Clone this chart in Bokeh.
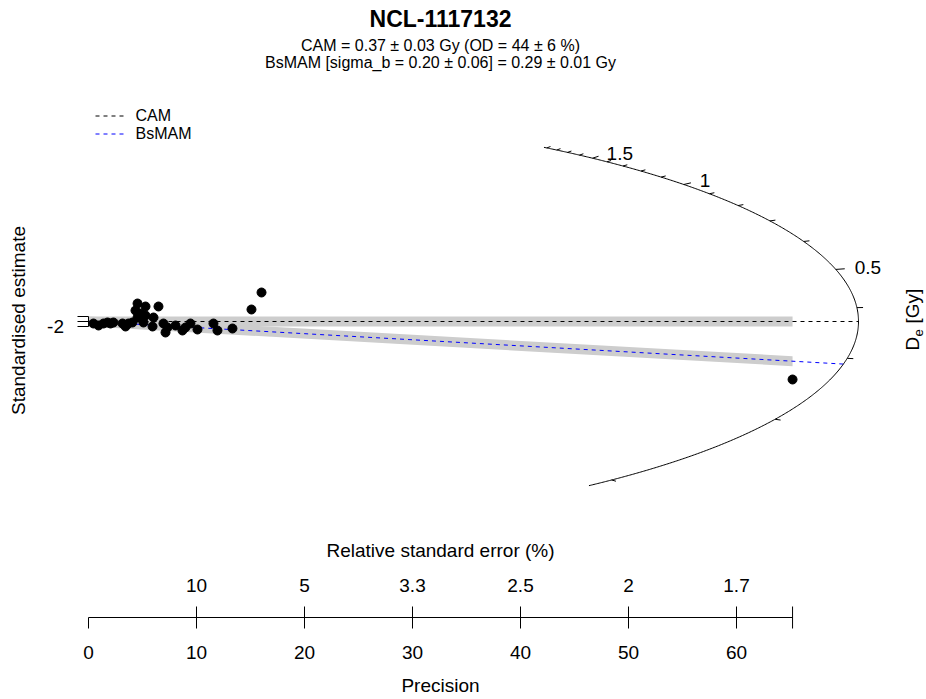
import numpy as np
from bokeh.plotting import figure
from bokeh.models import Range1d
from bokeh.core.properties import value
from bokeh.embed import file_html
from bokeh.resources import INLINE

# ---------------- data ----------------
sample_name = "NCL-1117132"
cam_text = "CAM = 0.37 ± 0.03 Gy (OD = 44 ± 6 %)"
bsmam_text = "BsMAM [sigma_b = 0.20 ± 0.06] = 0.29 ± 0.01 Gy"
cam_de = 0.37
bsmam_de = 0.29

precision = [0.46, 0.93, 1.39, 1.76, 2.04, 2.31, 3.15, 3.43, 3.70, 4.07,
             4.35, 4.54, 4.54, 4.81, 5.09, 5.28, 5.28, 5.93, 6.02, 6.48,
             6.94, 7.13, 7.31, 8.06, 8.70, 8.98, 9.44, 10.09, 11.57, 11.94,
             13.33, 15.09, 16.02, 65.19]
std_estimate = [-0.8, -1.6, -0.8, -0.4, -0.8, -0.4, -0.8, -2.0, -0.8, -0.4,
                4.4, 7.2, 1.6, 3.2, -0.4, 6.0, 2.4, -2.0, 1.6, 6.0,
                -0.8, -4.4, -2.4, -1.6, -3.6, -2.4, -0.8, -3.2, -0.8, -3.6,
                -2.8, 4.8, 11.6, -23.2]

de_minor_ticks = [0.1, 0.2, 0.3, 0.4, 0.6, 0.7, 0.8, 0.9, 1.1, 1.2, 1.3, 1.4,
                  1.6, 1.7, 1.8, 1.9]
de_major_ticks = [0.5, 1.0, 1.5]
de_major_labels = ["0.5", "1", "1.5"]
arc_de_limits = [0.0897, 1.93]

precision_ticks = [0, 10, 20, 30, 40, 50, 60]
precision_labels = ["0", "10", "20", "30", "40", "50", "60"]
precision_max = 65.19
rse_ticks = [10, 20, 30, 40, 50, 60]
rse_labels = ["10", "5", "3.3", "2.5", "2", "1.7"]
y_ticks = [-2, 0, 2]
band_halfwidth = 2

# ---------------- layout ----------------
W, H = 926, 696
PX0, PY0 = 88, 321          # pixel of the radial origin
KX, KY = 10.8, 2.5          # px per precision unit / per standardised unit
ARC_A, ARC_B = 770 / KX, 216 / KY
FONT = "Liberation Sans"


def X(px):
    return (px - PX0) / KX


def Y(py):
    return (PY0 - py) / KY


def arc_xy(de, scale=1.0):
    s = np.log(np.asarray(de, dtype=float) / cam_de)
    x = 1.0 / np.sqrt(1.0 / ARC_A ** 2 + s ** 2 / ARC_B ** 2)
    return x * scale, s * x * scale


p = figure(width=W, height=H, x_range=Range1d(X(0), X(W)),
           y_range=Range1d(Y(H), Y(0)), x_axis_type=None, y_axis_type=None,
           toolbar_location=None, output_backend="svg", min_border=0)
p.grid.visible = False
p.outline_line_color = None
p.background_fill_color = "white"
p.border_fill_color = "white"

# ---- bands ----
m_bs = np.log(bsmam_de / cam_de)
p.patch([0, precision_max, precision_max, 0],
        [-band_halfwidth, -band_halfwidth, band_halfwidth, band_halfwidth],
        fill_color="#cdcdcd", line_color=None)
p.patch([0, precision_max, precision_max, 0],
        [-band_halfwidth, m_bs * precision_max - band_halfwidth,
         m_bs * precision_max + band_halfwidth, band_halfwidth],
        fill_color="#cdcdcd", line_color=None)

# ---- central lines ----
cx, cy = arc_xy([cam_de])
p.line([0, cx[0]], [0, cy[0]], line_color="black", line_dash="4 4", line_width=1)
bx, by = arc_xy([bsmam_de])
p.line([0, bx[0]], [0, by[0]], line_color="blue", line_dash="4 4", line_width=1)

# ---- arc ----
de_curve = np.exp(np.linspace(np.log(arc_de_limits[0]), np.log(arc_de_limits[1]), 500))
ax_, ay_ = arc_xy(de_curve)
p.line(ax_, ay_, line_color="black", line_width=1)

x0, y0 = arc_xy(de_minor_ticks)
x1, y1 = arc_xy(de_minor_ticks, 1.008)
p.segment(x0, y0, x1, y1, line_color="black", line_width=1)
x0, y0 = arc_xy(de_major_ticks)
x1, y1 = arc_xy(de_major_ticks, 1.012)
p.segment(x0, y0, x1, y1, line_color="black", line_width=1)
lx, ly = arc_xy(de_major_ticks, 1.02)
p.text(lx, ly, text=de_major_labels, text_align="left", text_baseline="middle",
       x_offset=4, y_offset=-1, text_font=value(FONT), text_font_size="19px",
       text_color="black")

# ---- y axis (standardised estimate) ----
p.segment([0], [min(y_ticks)], [0], [max(y_ticks)], line_color="black", line_width=1)
p.segment([0] * len(y_ticks), y_ticks, [X(77)] * len(y_ticks), y_ticks,
          line_color="black", line_width=1)
p.text([X(55)], [y_ticks[0]], text=["-2"], text_align="center", text_baseline="middle",
       text_font=value(FONT), text_font_size="19px", text_color="black")

# ---- bottom precision / RSE axis ----
ya = Y(617)
p.segment([0], [ya], [precision_max], [ya], line_color="black", line_width=1)
p.segment(precision_ticks, [ya] * len(precision_ticks), precision_ticks,
          [Y(628)] * len(precision_ticks), line_color="black", line_width=1)
p.segment(rse_ticks, [ya] * len(rse_ticks), rse_ticks, [Y(606)] * len(rse_ticks),
          line_color="black", line_width=1)
p.segment([precision_max], [Y(606)], [precision_max], [Y(628)], line_color="black", line_width=1)
p.text(precision_ticks, [Y(652)] * len(precision_ticks), text=precision_labels,
       text_align="center", text_baseline="middle", text_font=value(FONT),
       text_font_size="19px", text_color="black")
p.text(rse_ticks, [Y(585)] * len(rse_ticks), text=rse_labels,
       text_align="center", text_baseline="middle", text_font=value(FONT),
       text_font_size="19px", text_color="black")

# ---- points ----
p.scatter(precision, std_estimate, size=9, marker="circle", fill_color="black",
          line_color="black")

# ---- texts ----
def txt(px, py, s, size="19px", style="normal", align="center", angle=0.0, color="black"):
    p.text([X(px)], [Y(py)], text=[s], text_align=align, text_baseline="middle",
           text_font=value(FONT), text_font_size=size, text_font_style=style,
           angle=angle, text_color=color)


txt(440, 18, sample_name, size="23px", style="bold")
txt(440, 45, cam_text, size="16px")
txt(440, 62, bsmam_text, size="16px")
txt(440, 550, "Relative standard error (%)")
txt(440, 685, "Precision")
txt(18, 320, "Standardised estimate", angle=np.pi / 2)
txt(912, 350, "D", align="left", angle=np.pi / 2)
txt(918, 336, "e", size="13px", align="left", angle=np.pi / 2)
txt(912, 323, "[Gy]", align="left", angle=np.pi / 2)

# ---- legend ----
p.line([X(95), X(125)], [Y(115.5), Y(115.5)], line_color="black", line_dash="4 4", line_width=1)
p.line([X(95), X(125)], [Y(133.5), Y(133.5)], line_color="blue", line_dash="4 4", line_width=1)
txt(135, 115, "CAM", size="16px", align="left")
txt(135, 133, "BsMAM", size="16px", align="left")

open("out.html", "w").write(file_html(p, INLINE))
